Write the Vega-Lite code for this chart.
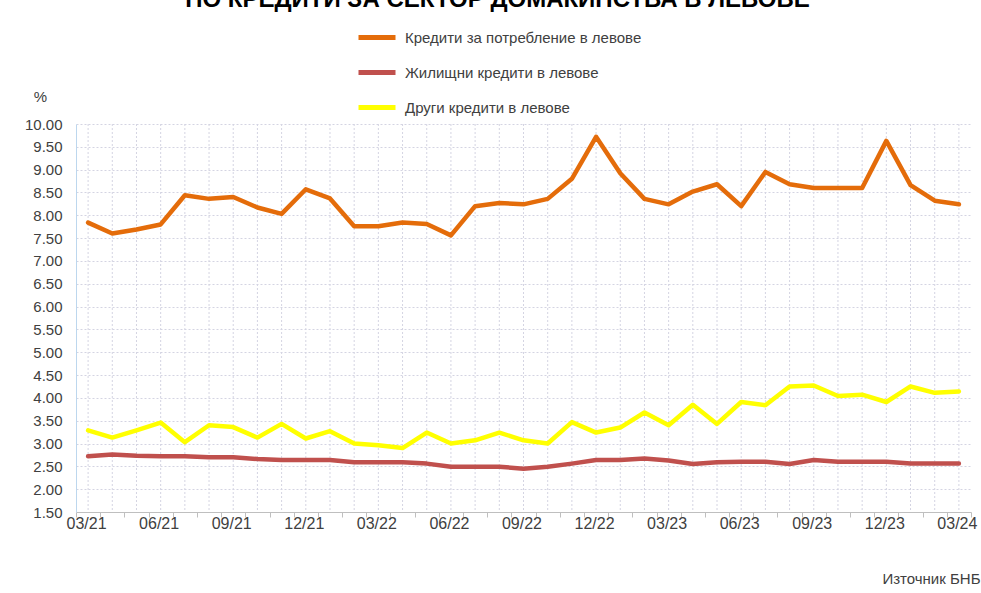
{
"$schema": "https://vega.github.io/schema/vega-lite/v6.json",
"width": 895,
"height": 388,
"autosize": "none",
"padding": {"left": 76, "top": 124, "right": 10, "bottom": 81},
"background": "white",
"title": {"text": "ПО КРЕДИТИ ЗА СЕКТОР ДОМАКИНСТВА В ЛЕВОВЕ", "fontSize": 24, "fontWeight": "bold", "color": "#000000", "anchor": "middle", "dy": -1, "dx": -26, "font": "Liberation Sans"},
"config": {
  "view": {"stroke": null},
  "font": "Liberation Sans"
},
"data": {"values": [
{"m":"03/21","s":"Кредити за потребление в левове","v":7.84},
{"m":"04/21","s":"Кредити за потребление в левове","v":7.60},
{"m":"05/21","s":"Кредити за потребление в левове","v":7.69},
{"m":"06/21","s":"Кредити за потребление в левове","v":7.80},
{"m":"07/21","s":"Кредити за потребление в левове","v":8.44},
{"m":"08/21","s":"Кредити за потребление в левове","v":8.36},
{"m":"09/21","s":"Кредити за потребление в левове","v":8.40},
{"m":"10/21","s":"Кредити за потребление в левове","v":8.17},
{"m":"11/21","s":"Кредити за потребление в левове","v":8.03},
{"m":"12/21","s":"Кредити за потребление в левове","v":8.57},
{"m":"01/22","s":"Кредити за потребление в левове","v":8.37},
{"m":"02/22","s":"Кредити за потребление в левове","v":7.76},
{"m":"03/22","s":"Кредити за потребление в левове","v":7.76},
{"m":"04/22","s":"Кредити за потребление в левове","v":7.84},
{"m":"05/22","s":"Кредити за потребление в левове","v":7.81},
{"m":"06/22","s":"Кредити за потребление в левове","v":7.56},
{"m":"07/22","s":"Кредити за потребление в левове","v":8.20},
{"m":"08/22","s":"Кредити за потребление в левове","v":8.27},
{"m":"09/22","s":"Кредити за потребление в левове","v":8.24},
{"m":"10/22","s":"Кредити за потребление в левове","v":8.36},
{"m":"11/22","s":"Кредити за потребление в левове","v":8.80},
{"m":"12/22","s":"Кредити за потребление в левове","v":9.72},
{"m":"01/23","s":"Кредити за потребление в левове","v":8.92},
{"m":"02/23","s":"Кредити за потребление в левове","v":8.36},
{"m":"03/23","s":"Кредити за потребление в левове","v":8.24},
{"m":"04/23","s":"Кредити за потребление в левове","v":8.52},
{"m":"05/23","s":"Кредити за потребление в левове","v":8.68},
{"m":"06/23","s":"Кредити за потребление в левове","v":8.20},
{"m":"07/23","s":"Кредити за потребление в левове","v":8.95},
{"m":"08/23","s":"Кредити за потребление в левове","v":8.68},
{"m":"09/23","s":"Кредити за потребление в левове","v":8.60},
{"m":"10/23","s":"Кредити за потребление в левове","v":8.60},
{"m":"11/23","s":"Кредити за потребление в левове","v":8.60},
{"m":"12/23","s":"Кредити за потребление в левове","v":9.63},
{"m":"01/24","s":"Кредити за потребление в левове","v":8.66},
{"m":"02/24","s":"Кредити за потребление в левове","v":8.32},
{"m":"03/24","s":"Кредити за потребление в левове","v":8.24},
{"m":"03/21","s":"Жилищни кредити в левове","v":2.72},
{"m":"04/21","s":"Жилищни кредити в левове","v":2.76},
{"m":"05/21","s":"Жилищни кредити в левове","v":2.73},
{"m":"06/21","s":"Жилищни кредити в левове","v":2.72},
{"m":"07/21","s":"Жилищни кредити в левове","v":2.72},
{"m":"08/21","s":"Жилищни кредити в левове","v":2.70},
{"m":"09/21","s":"Жилищни кредити в левове","v":2.70},
{"m":"10/21","s":"Жилищни кредити в левове","v":2.66},
{"m":"11/21","s":"Жилищни кредити в левове","v":2.64},
{"m":"12/21","s":"Жилищни кредити в левове","v":2.64},
{"m":"01/22","s":"Жилищни кредити в левове","v":2.64},
{"m":"02/22","s":"Жилищни кредити в левове","v":2.59},
{"m":"03/22","s":"Жилищни кредити в левове","v":2.59},
{"m":"04/22","s":"Жилищни кредити в левове","v":2.59},
{"m":"05/22","s":"Жилищни кредити в левове","v":2.56},
{"m":"06/22","s":"Жилищни кредити в левове","v":2.49},
{"m":"07/22","s":"Жилищни кредити в левове","v":2.49},
{"m":"08/22","s":"Жилищни кредити в левове","v":2.49},
{"m":"09/22","s":"Жилищни кредити в левове","v":2.45},
{"m":"10/22","s":"Жилищни кредити в левове","v":2.49},
{"m":"11/22","s":"Жилищни кредити в левове","v":2.56},
{"m":"12/22","s":"Жилищни кредити в левове","v":2.64},
{"m":"01/23","s":"Жилищни кредити в левове","v":2.64},
{"m":"02/23","s":"Жилищни кредити в левове","v":2.67},
{"m":"03/23","s":"Жилищни кредити в левове","v":2.63},
{"m":"04/23","s":"Жилищни кредити в левове","v":2.55},
{"m":"05/23","s":"Жилищни кредити в левове","v":2.59},
{"m":"06/23","s":"Жилищни кредити в левове","v":2.60},
{"m":"07/23","s":"Жилищни кредити в левове","v":2.60},
{"m":"08/23","s":"Жилищни кредити в левове","v":2.55},
{"m":"09/23","s":"Жилищни кредити в левове","v":2.64},
{"m":"10/23","s":"Жилищни кредити в левове","v":2.60},
{"m":"11/23","s":"Жилищни кредити в левове","v":2.60},
{"m":"12/23","s":"Жилищни кредити в левове","v":2.60},
{"m":"01/24","s":"Жилищни кредити в левове","v":2.56},
{"m":"02/24","s":"Жилищни кредити в левове","v":2.56},
{"m":"03/24","s":"Жилищни кредити в левове","v":2.56},
{"m":"03/21","s":"Други кредити в левове","v":3.29},
{"m":"04/21","s":"Други кредити в левове","v":3.13},
{"m":"05/21","s":"Други кредити в левове","v":3.29},
{"m":"06/21","s":"Други кредити в левове","v":3.46},
{"m":"07/21","s":"Други кредити в левове","v":3.03},
{"m":"08/21","s":"Други кредити в левове","v":3.40},
{"m":"09/21","s":"Други кредити в левове","v":3.36},
{"m":"10/21","s":"Други кредити в левове","v":3.13},
{"m":"11/21","s":"Други кредити в левове","v":3.43},
{"m":"12/21","s":"Други кредити в левове","v":3.11},
{"m":"01/22","s":"Други кредити в левове","v":3.27},
{"m":"02/22","s":"Други кредити в левове","v":3.00},
{"m":"03/22","s":"Други кредити в левове","v":2.96},
{"m":"04/22","s":"Други кредити в левове","v":2.90},
{"m":"05/22","s":"Други кредити в левове","v":3.24},
{"m":"06/22","s":"Други кредити в левове","v":3.00},
{"m":"07/22","s":"Други кредити в левове","v":3.07},
{"m":"08/22","s":"Други кредити в левове","v":3.24},
{"m":"09/22","s":"Други кредити в левове","v":3.07},
{"m":"10/22","s":"Други кредити в левове","v":3.00},
{"m":"11/22","s":"Други кредити в левове","v":3.47},
{"m":"12/22","s":"Други кредити в левове","v":3.24},
{"m":"01/23","s":"Други кредити в левове","v":3.35},
{"m":"02/23","s":"Други кредити в левове","v":3.68},
{"m":"03/23","s":"Други кредити в левове","v":3.40},
{"m":"04/23","s":"Други кредити в левове","v":3.85},
{"m":"05/23","s":"Други кредити в левове","v":3.43},
{"m":"06/23","s":"Други кредити в левове","v":3.91},
{"m":"07/23","s":"Други кредити в левове","v":3.84},
{"m":"08/23","s":"Други кредити в левове","v":4.25},
{"m":"09/23","s":"Други кредити в левове","v":4.27},
{"m":"10/23","s":"Други кредити в левове","v":4.04},
{"m":"11/23","s":"Други кредити в левове","v":4.07},
{"m":"12/23","s":"Други кредити в левове","v":3.91},
{"m":"01/24","s":"Други кредити в левове","v":4.25},
{"m":"02/24","s":"Други кредити в левове","v":4.11},
{"m":"03/24","s":"Други кредити в левове","v":4.14}
]},
"layer": [
  {
    "transform": [{"filter": "datum.s === 'Жилищни кредити в левове'"}],
    "mark": {"type": "rule", "strokeDash": [2, 2], "color": "#d4d4e2", "strokeWidth": 1},
    "encoding": {"x": {"field": "m", "type": "ordinal", "sort": null}}
  },
  {
    "mark": {"type": "line", "strokeWidth": 4.5, "strokeJoin": "round", "strokeCap": "round"},
    "encoding": {
      "x": {"field": "m", "type": "ordinal", "sort": null,
        "scale": {"type": "band", "paddingInner": 0, "paddingOuter": 0},
        "axis": {"title": "Източник БНБ", "titleAnchor": "end", "titleAlign": "right", "titleX": 904, "titleY": 71, "titleBaseline": "alphabetic", "titleFontSize": 15, "titleFontWeight": "normal", "titleColor": "#404040",
          "labelAngle": 0, "labelExpr": "test(/^(03|06|09|12)\\//, datum.value) ? datum.value : ''", "labelFontSize": 16, "labelColor": "#404040", "labelPadding": 6, "labelOffset": 18,
          "tickBand": "extent", "ticks": true, "tickSize": 5, "tickColor": "#bfbfbf", "domainColor": "#bfbfbf", "grid": false}},
      "y": {"field": "v", "type": "quantitative",
        "scale": {"domain": [1.5, 10], "nice": false, "zero": false},
        "axis": {"title": "%", "titleAngle": 0, "titleX": -36, "titleY": -28, "titleAlign": "center", "titleBaseline": "middle", "titleFontSize": 15, "titleFontWeight": "normal", "titleColor": "#404040",
          "values": [1.5,2,2.5,3,3.5,4,4.5,5,5.5,6,6.5,7,7.5,8,8.5,9,9.5,10], "format": ".2f",
          "labelFontSize": 15, "labelColor": "#404040", "labelPadding": 14, "ticks": false,
          "domainColor": "#bdd7ee", "grid": true, "gridDash": [2, 2], "gridColor": "#d4d4e2"}},
      "color": {"field": "s", "type": "nominal",
        "scale": {"domain": ["Кредити за потребление в левове", "Жилищни кредити в левове", "Други кредити в левове"], "range": ["#E46C0A", "#C0504D", "#FFFF00"]},
        "legend": {"title": null, "orient": "none", "legendX": 280, "legendY": -107.5, "direction": "vertical", "padding": 0,
          "symbolType": "stroke", "symbolSize": 1369, "symbolStrokeWidth": 5, "labelOffset": 7, "labelFontSize": 15, "labelColor": "#404040", "labelLimit": 500, "rowPadding": 4}}
    }
  }
]
}
